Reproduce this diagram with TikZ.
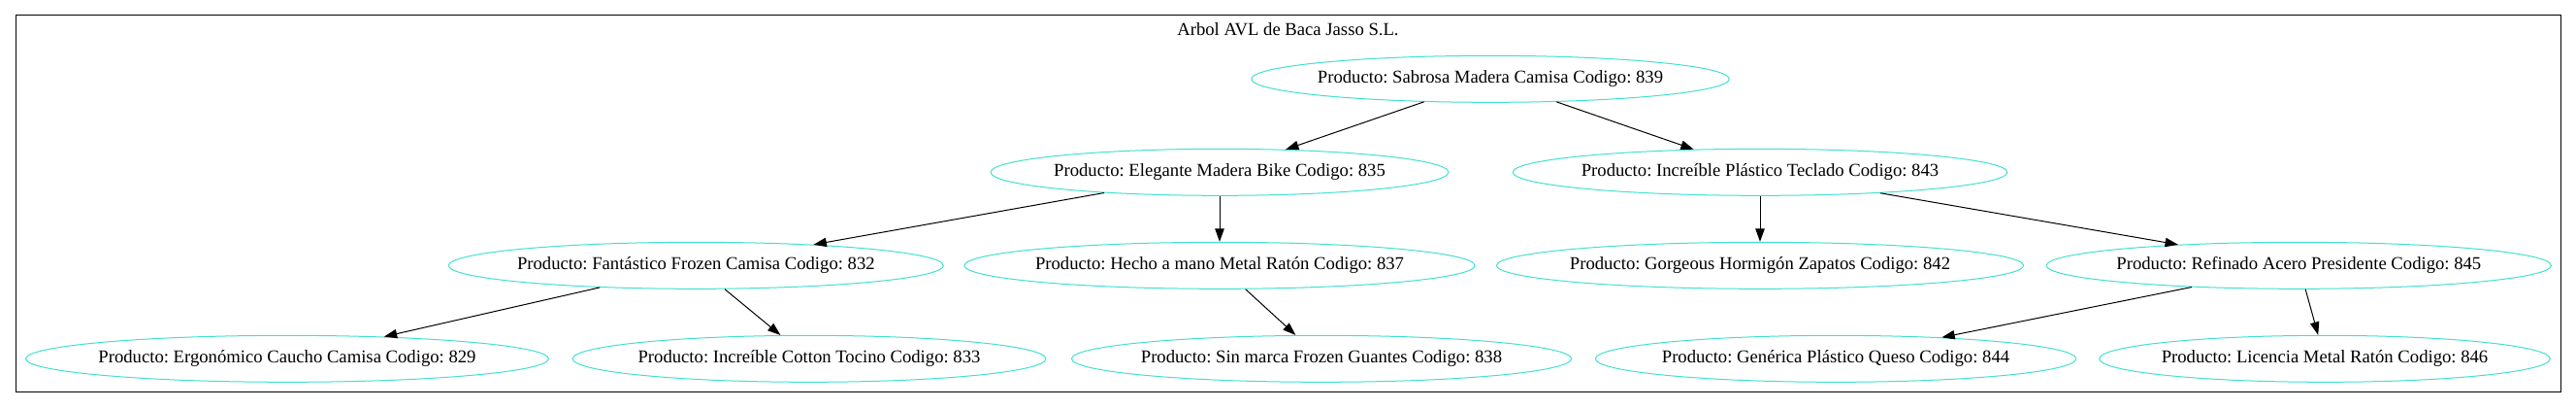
\documentclass[tikz,border=0pt]{standalone}
\usepackage{fontspec}
\setmainfont{Liberation Serif}
\usepackage{tikz}
\usetikzlibrary{arrows.meta,shapes.geometric,positioning}
\definecolor{turquesa}{HTML}{40E0D0}
\frenchspacing

\begin{document}
\begin{tikzpicture}[
  x=1pt, y=1pt,
  every node/.style={font=\fontsize{14}{16.8}\selectfont},
  prod/.style={ellipse, draw=turquesa, line width=0.75pt, minimum height=36pt, inner xsep=-3pt, inner ysep=0pt},
  arr/.style={draw, -{Triangle[length=10pt,width=7pt]}, line width=0.75pt}
]
\useasboundingbox (0,0) rectangle (1991.25,315);
\draw[line width=0.75pt] (12,12) rectangle (1979.25,303);
\node[anchor=base] (titulo) at (995.6,287.5) {Arbol AVL de Baca Jasso S.L.};
% nivel 0
\node[prod] (n839) at (1152,254) {Producto: Sabrosa Madera Camisa Codigo: 839};
% nivel 1
\node[prod] (n835) at (942.75,182) {Producto: Elegante Madera Bike Codigo: 835};
\node[prod] (n843) at (1360.5,182) {Producto: Increíble Plástico Teclado Codigo: 843};
% nivel 2
\node[prod] (n832) at (538,110) {Producto: Fantástico Frozen Camisa Codigo: 832};
\node[prod] (n837) at (942.75,110) {Producto: Hecho a mano Metal Ratón Codigo: 837};
\node[prod] (n842) at (1360.5,110) {Producto: Gorgeous Hormigón Zapatos Codigo: 842};
\node[prod] (n845) at (1777,110) {Producto: Refinado Acero Presidente Codigo: 845};
% nivel 3
\node[prod] (n829) at (222,38) {Producto: Ergonómico Caucho Camisa Codigo: 829};
\node[prod] (n833) at (625.5,38) {Producto: Increíble Cotton Tocino Codigo: 833};
\node[prod] (n838) at (1021.5,38) {Producto: Sin marca Frozen Guantes Codigo: 838};
\node[prod] (n844) at (1419,38) {Producto: Genérica Plástico Queso Codigo: 844};
\node[prod] (n846) at (1797,38) {Producto: Licencia Metal Ratón Codigo: 846};
% aristas
\draw[arr] (n839) -- (n835);
\draw[arr] (n839) -- (n843);
\draw[arr] (n835) -- (n832);
\draw[arr] (n835) -- (n837);
\draw[arr] (n843) -- (n842);
\draw[arr] (n843) -- (n845);
\draw[arr] (n832) -- (n829);
\draw[arr] (n832) -- (n833);
\draw[arr] (n837) -- (n838);
\draw[arr] (n845) -- (n844);
\draw[arr] (n845) -- (n846);
\end{tikzpicture}
\end{document}
